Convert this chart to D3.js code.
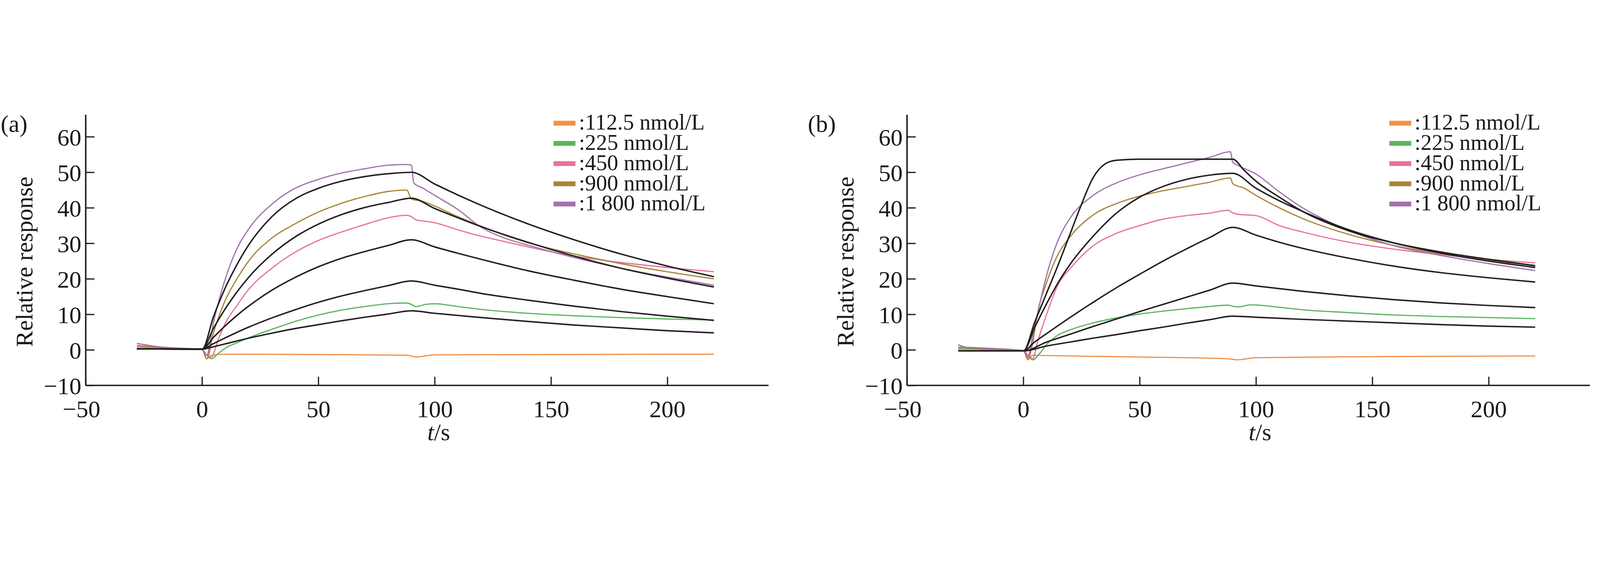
<!DOCTYPE html>
<html>
<head>
<meta charset="utf-8">
<script src="https://cdn.jsdelivr.net/npm/d3@7"></script>
<style>
  html, body { margin: 0; padding: 0; background: #fff; overflow: hidden; }
  svg { display: block; }
  text { font-family: "Liberation Serif", "DejaVu Serif", serif; fill: #1a1a1a; }
</style>
</head>
<body>
<div id="chart"></div>
<script>
// legend / series names
var concLabels = [":112.5 nmol/L", ":225 nmol/L", ":450 nmol/L", ":900 nmol/L", ":1 800 nmol/L"];
var concColors = ["#f0914b", "#5db45f", "#e8729f", "#a8843a", "#a173ab"];
var xTicks = [-50, 0, 50, 100, 150, 200];
var yTicks = [-10, 0, 10, 20, 30, 40, 50, 60];

// ---- panel (a): measured curves [t, response]
var a112 = [[-28,0.3],[0,0.1],[2,-2.5],[4,-1.5],[10,-1.2],[50,-1.3],[88,-1.5],[92,-2],[100,-1.4],[150,-1.3],[220,-1.2]];
var a225 = [[-28,0.5],[0,0.1],[2,-1.5],[4,-2.5],[7,-1],[10,0.5],[15,2],[20,3.4],[30,5.8],[40,8],[50,9.8],[60,11.2],[70,12.2],[80,13],[88,13.2],[90,12.8],[92,12.2],[96,12.8],[100,13],[110,12.2],[120,11.4],[140,10.3],[160,9.6],[180,9.1],[200,8.7],[220,8.4]];
var a450 = [[-28,1.0],[-20,0.6],[-10,0.3],[0,0.2],[2,-1.5],[4,-2],[7,3],[10,7.5],[15,12.5],[20,17],[30,23],[40,27.5],[50,30.8],[60,33.2],[70,35.3],[80,37.2],[88,37.9],[90,37.5],[92,36.6],[95,36.3],[100,35.8],[110,33.8],[120,32],[130,30.5],[140,29],[160,26.4],[180,24.6],[200,23.2],[220,22]];
var a900 = [[-28,1.2],[-20,0.8],[-10,0.4],[0,0.2],[2,-2.5],[5,5],[10,14],[15,20],[20,25],[30,31.5],[40,35.5],[50,38.8],[60,41.3],[70,43.2],[80,44.6],[88,45],[90,42.5],[95,41.8],[100,40.5],[110,37.5],[120,34.8],[130,32.3],[140,30.2],[160,27],[180,24.3],[200,22],[220,20]];
var a1800 = [[-28,1.8],[-25,1.5],[-20,1.0],[-10,0.5],[0,0.2],[2,-1.5],[5,8],[10,20],[15,28.5],[20,34],[30,41],[40,45.5],[50,48],[60,49.8],[70,51],[80,52],[88,52.2],[90,52],[91,47],[95,45.5],[100,43.5],[110,39.5],[120,34.5],[130,31.5],[140,29.5],[160,26],[180,23],[200,20.5],[220,18.2]];
// panel (a): fitted curves
var aFit1 = [[-28,0.3],[0,0.2],[5,9.5],[10,17.5],[15,24],[20,29.5],[30,37.5],[40,42.5],[50,45.5],[60,47.5],[70,48.8],[80,49.6],[90,50],[100,46.7],[110,43.6],[120,40.7],[140,35.5],[160,31],[180,27],[200,23.6],[220,20.6]];
var aFit2 = [[-28,0.3],[0,0.2],[5,6.2],[10,11.6],[15,16.3],[20,20.4],[30,26.9],[40,31.8],[50,35.4],[60,38.1],[70,40.1],[80,41.5],[90,42.7],[100,39.8],[110,37.2],[120,34.7],[140,30.3],[160,26.4],[180,23],[200,20.2],[220,17.7]];
var aFit3 = [[-28,0.3],[0,0.2],[5,3.6],[10,6.8],[15,9.7],[20,12.3],[30,16.8],[40,20.4],[50,23.4],[60,25.8],[70,27.7],[80,29.4],[90,31],[100,29],[110,27.2],[120,25.5],[140,22.3],[160,19.6],[180,17.1],[200,15],[220,13]];
var aFit4 = [[-28,0.3],[0,0.2],[5,1.8],[10,3.4],[20,6.4],[30,9],[40,11.3],[50,13.4],[60,15.2],[70,16.7],[80,18.1],[90,19.4],[100,18.2],[110,17.1],[120,15.9],[140,14],[160,12.3],[180,10.8],[200,9.5],[220,8.3]];
var aFit5 = [[-28,0.3],[0,0.2],[5,0.9],[10,1.7],[20,3.3],[30,4.7],[40,6],[50,7.1],[60,8.2],[70,9.2],[80,10.1],[90,11],[100,10.3],[110,9.7],[120,9.1],[140,8],[160,7],[180,6.2],[200,5.4],[220,4.8]];

// ---- panel (b): measured curves
var b112 = [[-28,0.2],[0,-0.2],[2,-2.8],[4,-1.5],[10,-1.6],[50,-2],[88,-2.5],[92,-2.8],[100,-2.2],[150,-1.9],[220,-1.7]];
var b225 = [[-28,0.3],[0,-0.2],[2,-1.5],[4,-2.8],[7,-1],[10,1.5],[15,4.2],[20,5.6],[30,7.6],[40,9],[50,10.1],[60,10.9],[70,11.6],[80,12.2],[88,12.6],[90,12.3],[92,12.1],[98,12.7],[110,12],[120,11.3],[140,10.5],[160,9.8],[180,9.4],[200,9.1],[220,8.8]];
var b450 = [[-28,0.7],[0,-0.2],[2,-1.5],[4,-2.5],[6,2],[10,10],[15,18.5],[20,22.8],[30,29.3],[40,32.8],[50,35],[60,36.8],[70,37.8],[80,38.5],[88,39.3],[90,38.6],[92,38.2],[100,37.8],[110,35],[120,33.2],[140,30.3],[160,28.3],[180,26.8],[200,25.5],[220,24.5]];
var b900 = [[-28,0.8],[-20,0.4],[0,-0.2],[2,-2.5],[4,2],[6,10],[10,19],[15,27],[20,31.8],[30,38],[40,41.2],[50,43.3],[60,44.8],[70,46],[80,47.2],[89,48.4],[90,46.8],[95,45.5],[100,43.5],[110,40],[120,37],[140,32.5],[160,29.3],[180,27],[200,25.2],[220,23.8]];
var b1800 = [[-28,1.5],[-25,0.8],[-20,0.6],[-10,0.3],[0,-0.2],[2,-2],[4,4],[6,10],[10,21],[15,31],[20,37],[30,43.5],[40,47],[50,49.3],[60,51],[70,52.6],[80,54.2],[89,55.8],[90,52.8],[92,52],[100,49.5],[110,44.5],[120,40],[130,36.5],[140,33.6],[160,29.2],[180,26.5],[200,24.3],[220,22.3]];
// panel (b): fitted curves
var bFit1 = [[-28,-0.3],[0,-0.3],[5,8],[10,16],[15,24],[20,32.5],[25,41],[30,48.5],[35,52.3],[40,53.4],[50,53.7],[90,53.7],[95,50.5],[100,47.5],[110,43],[120,39],[140,33.5],[160,30],[180,27.5],[200,25.5],[220,23.7]];
var bFit2 = [[-28,-0.3],[0,-0.3],[5,6.5],[10,13],[15,19],[20,24],[30,32],[40,38.5],[50,43],[60,46],[70,48],[80,49.2],[90,49.7],[100,45.5],[110,42],[120,39],[140,33.8],[160,30],[180,27.2],[200,25],[220,23.2]];
var bFit3 = [[-28,-0.3],[0,-0.3],[5,2.3],[10,4.6],[20,9.1],[30,13.4],[40,17.5],[50,21.3],[60,25],[70,28.4],[80,31.6],[90,34.5],[100,32.3],[110,30.3],[120,28.6],[140,25.8],[160,23.5],[180,21.7],[200,20.3],[220,19.1]];
var bFit4 = [[-28,-0.3],[0,-0.3],[10,2.2],[20,4.4],[30,6.6],[40,8.7],[50,10.8],[60,12.8],[70,14.8],[80,16.8],[90,18.8],[100,18],[120,16.5],[140,15.2],[160,14.1],[180,13.2],[200,12.5],[220,11.9]];
var bFit5 = [[-28,-0.3],[0,-0.3],[10,1.1],[20,2.2],[30,3.3],[40,4.3],[50,5.4],[60,6.4],[70,7.5],[80,8.5],[90,9.5],[100,9.2],[120,8.6],[140,8.1],[160,7.6],[180,7.1],[200,6.7],[220,6.4]];

var W = 6645, H = 1440;
// scale the whole drawing to whatever the viewport is
var svg = d3.select("#chart").append("svg")
  .attr("viewBox", "0 0 " + W + " " + H)
  .attr("preserveAspectRatio", "xMidYMid meet")
  .style("width", "100vw").style("height", "100vh");

function drawPanel(axisX, tag, tagX, legendX, measured, fits) {
  var x = d3.scaleLinear().domain([-50, 243.5]).range([axisX, axisX + 2836]);
  var y = d3.scaleLinear().domain([-10, 66.2]).range([1154, 29]);
  var g = svg.append("g");
  var fmt = function (d) { return d < 0 ? "\u2212" + Math.abs(d) : d; };

  // x axis, ticks pointing up into plot
  var xa = g.append("g").attr("transform", "translate(0," + y(-10) + ")")
    .call(d3.axisBottom(x).tickValues(xTicks).tickSize(-36).tickPadding(62).tickFormat(fmt));
  xa.attr("font-family", null);
  xa.select(".domain").attr("stroke", "#1a1a1a").attr("stroke-width", 6)
    .attr("d", "M" + x(-50) + ",0H" + x(243.5));
  xa.selectAll(".tick line").attr("stroke", "#1a1a1a").attr("stroke-width", 5);
  xa.selectAll(".tick text").attr("font-size", 100).attr("fill", "#1a1a1a");
  xa.selectAll(".tick").filter(function (d) { return d === -50; }).select("text").attr("dx", -18);

  var ya = g.append("g").attr("transform", "translate(" + axisX + ",0)")
    .call(d3.axisLeft(y).tickValues(yTicks).tickSize(-36).tickPadding(18).tickFormat(fmt));
  ya.attr("font-family", null);
  ya.select(".domain").attr("stroke", "#1a1a1a").attr("stroke-width", 6)
    .attr("d", "M0," + y(66.2) + "V" + y(-10));
  ya.selectAll(".tick line").attr("stroke", "#1a1a1a").attr("stroke-width", 5);
  ya.selectAll(".tick text").attr("font-size", 100).attr("fill", "#1a1a1a").attr("dy", "0.36em");

  var line = d3.line()
    .x(function (d) { return x(d[0]); })
    .y(function (d) { return y(d[1]); })
    .curve(d3.curveMonotoneX);

  measured.forEach(function (s, i) {
    g.append("path").datum(s).attr("d", line)
      .attr("fill", "none").attr("stroke", concColors[i]).attr("stroke-width", 5);
  });
  fits.forEach(function (s) {
    g.append("path").datum(s).attr("d", line)
      .attr("fill", "none").attr("stroke", "#231f20").attr("stroke-width", 6);
  });

  // labels
  g.append("text").attr("x", tagX).attr("y", 100).attr("font-size", 100).text(tag);
  g.append("text")
    .attr("transform", "translate(" + (axisX - 222) + ",640) rotate(-90)")
    .attr("text-anchor", "middle").attr("font-size", 100)
    .text("Relative response");
  var xt = g.append("text").attr("x", axisX + 1466).attr("y", 1382)
    .attr("text-anchor", "middle").attr("font-size", 100);
  xt.append("tspan").attr("font-style", "italic").text("t");
  xt.append("tspan").text("/s");

  // legend
  concLabels.forEach(function (lab, i) {
    var cy = 64 + i * 84;
    g.append("rect").attr("x", legendX).attr("y", cy - 10)
      .attr("width", 91).attr("height", 20).attr("fill", concColors[i]);
    g.append("text").attr("x", legendX + 105).attr("y", cy + 27)
      .attr("font-size", 92).text(lab);
  });
}

drawPanel(356, "(a)", 3, 2299, [a112, a225, a450, a900, a1800], [aFit1, aFit2, aFit3, aFit4, aFit5]);
drawPanel(3767, "(b)", 3355, 5770, [b112, b225, b450, b900, b1800], [bFit1, bFit2, bFit3, bFit4, bFit5]);
</script>
</body>
</html>
